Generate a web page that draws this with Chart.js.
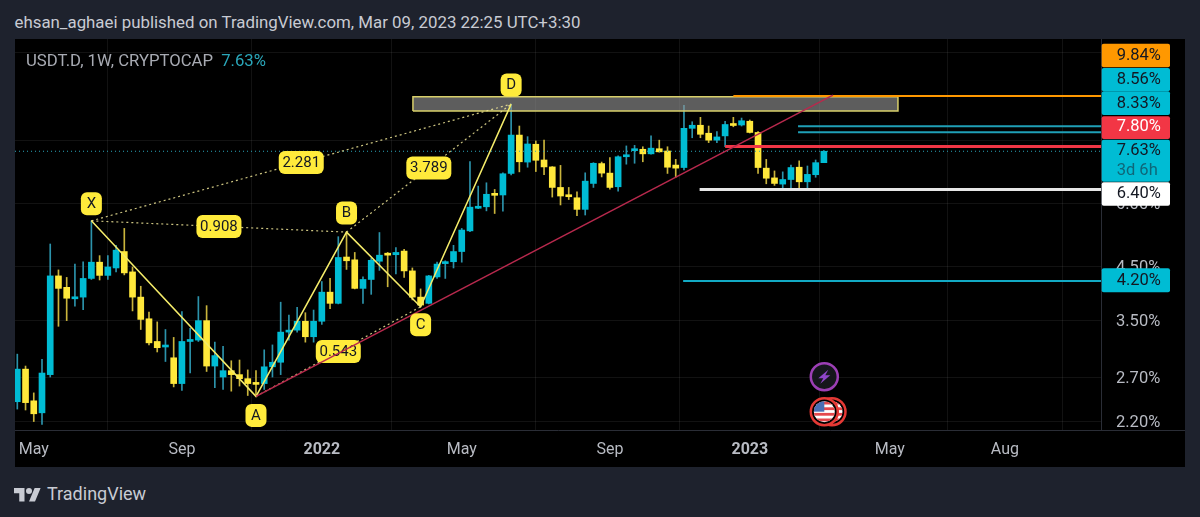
<!DOCTYPE html>
<html><head><meta charset="utf-8">
<script src="https://cdn.jsdelivr.net/npm/chart.js@4"></script>
<style>
html,body{margin:0;padding:0;width:1200px;height:517px;overflow:hidden;background:#1e222d;font-family:Roboto,sans-serif}
#hdr{position:absolute;left:14.5px;top:11px;font-size:16.85px;line-height:22px;color:#c8cbd3;white-space:nowrap}
#panel{position:absolute;left:15px;top:39px;width:1170px;height:428px;background:#000}
#legend{position:absolute;left:26px;top:50.5px;font-size:16.7px;line-height:19px;color:#a8abb3;white-space:nowrap}
#legend span{color:#2aa7ba;margin-left:4px}
#foot{position:absolute;left:47px;top:483px;font-size:18px;line-height:22px;color:#c8cbd3}
#logo{position:absolute;left:14px;top:485px;width:27px;height:21px}
canvas{display:block}
</style></head><body>
<div id="hdr">ehsan_aghaei published on TradingView.com, Mar 09, 2023 22:25 UTC+3:30</div>
<div id="panel"><canvas id="c" width="1170" height="428"></canvas></div>
<div id="legend">USDT.D, 1W, CRYPTOCAP <span>7.63%</span></div>
<svg id="logo" viewBox="0 0 36 28"><path fill="#c8cbd3" d="M14 22H7V11H0V4h14v18zM28 22h-8l7.5-18h8L28 22z"/><circle fill="#c8cbd3" cx="20" cy="8" r="4"/></svg>
<div id="foot">TradingView</div>
<script>
const opens  = [2.41,2.80,2.42,2.29,2.73,4.30,4.08,3.87,3.90,4.25,4.58,4.31,4.46,4.81,4.38,3.90,3.53,3.18,3.10,2.95,2.62,3.18,3.20,3.50,2.84,2.70,2.78,2.73,2.68,2.62,2.62,2.83,2.89,3.32,3.35,3.49,3.25,3.49,3.99,3.79,4.69,4.63,4.06,4.23,4.60,4.76,4.74,4.82,4.40,3.90,3.79,4.28,4.55,4.59,4.81,5.29,5.87,5.91,6.26,6.24,6.89,8.22,7.26,7.88,7.33,7.10,6.46,6.24,6.16,5.84,6.58,7.21,6.90,6.48,7.44,7.65,7.70,7.54,7.72,7.64,7.16,7.08,8.48,8.60,8.29,8.03,8.19,8.64,8.61,8.76,8.32,7.06,6.75,6.56,6.70,7.09,6.63,6.85,7.24];
const highs  = [3.00,2.84,2.51,2.93,4.98,4.42,4.27,4.54,4.59,5.54,4.72,4.72,4.95,5.35,4.48,4.10,3.64,3.48,3.36,3.24,3.65,3.38,3.91,3.75,3.17,3.11,2.91,2.92,2.79,2.78,3.06,3.13,3.81,3.59,3.72,3.63,3.675,4.19,4.25,5.15,5.26,4.79,4.28,4.66,5.25,4.79,4.90,4.86,4.46,4.05,4.31,4.58,4.61,4.95,5.35,7.28,6.50,6.60,6.40,6.91,9.48,8.57,8.16,8.00,8.03,7.11,7.15,6.46,6.33,6.91,7.24,7.26,7.41,7.47,7.82,7.84,7.79,8.19,8.03,7.79,7.35,9.43,8.74,8.92,8.57,8.35,8.76,8.92,8.89,8.81,8.35,7.35,6.97,6.94,7.16,7.30,7.13,7.33,7.65];
const lows   = [2.33,2.32,2.20,2.17,2.70,3.41,3.50,3.74,3.68,4.23,4.22,4.23,4.38,4.32,3.66,3.36,3.13,3.03,2.90,2.58,2.54,2.75,3.18,2.77,2.57,2.55,2.53,2.59,2.48,2.47,2.55,2.70,2.73,3.20,3.32,3.17,3.17,3.44,3.70,3.78,4.43,4.05,3.79,3.95,4.41,4.09,4.34,4.27,3.85,3.73,3.78,4.25,4.25,4.46,4.58,5.27,5.86,5.80,5.73,5.79,6.84,6.94,7.09,6.95,6.85,6.18,5.96,6.11,5.67,5.69,6.46,6.78,6.41,6.35,7.19,7.22,7.27,7.53,7.60,6.89,6.77,7.00,8.12,8.12,7.94,7.94,7.79,8.54,8.57,8.30,6.89,6.57,6.52,6.44,6.44,6.44,6.44,6.77,7.24];
const closes = [2.80,2.40,2.28,2.75,4.30,4.06,3.88,3.90,4.25,4.58,4.31,4.48,4.84,4.36,3.90,3.52,3.16,3.09,3.12,2.62,3.18,3.20,3.50,2.84,2.98,2.78,2.73,2.68,2.62,2.61,2.83,2.89,3.32,3.35,3.49,3.25,3.49,3.99,3.79,4.68,4.61,4.06,4.23,4.62,4.73,4.73,4.79,4.40,3.90,3.76,4.30,4.54,4.59,4.81,5.31,5.90,5.91,6.26,6.23,6.88,8.22,7.27,7.89,7.32,7.10,6.46,6.21,6.19,5.84,6.65,7.22,6.90,6.46,7.44,7.50,7.70,7.54,7.74,7.61,7.09,7.06,8.48,8.60,8.25,8.03,8.15,8.63,8.59,8.78,8.32,7.08,6.74,6.58,6.70,7.08,6.63,6.86,7.24,7.63];

const xTickIndex  = [2,20,37,54,72,89,106,120];
const xTickLabels = ['May','Sep','2022','May','Sep','2023','May','Aug'];
const yTickValues = [2.2,2.7,3.5,4.5,6.0,8.0,12.0];
const yTickLabels = ['2.20%','2.70%','3.50%','4.50%','6.00%','',''];

const patternIdx   = [9,29,40,49,60];
const patternVals  = [highs[9],lows[29],highs[40],lows[49],highs[60]];
const patternNames = ['X','A','B','C','D'];
const ratioLabels  = ['0.908','2.281','3.789','0.543'];

const trendIdx  = [29,99.1];
const trendVals = [lows[29],9.88];
const zoneIdx   = [48.07,107];
const zoneVals  = [9.18,9.80];

const levelVals   = [9.84,8.56,8.33,7.80,6.40,4.20];
const levelStarts = [87,94.86,94.86,86,82.9,80.9];
const levelColors = ['#ff9800','#1f9fb6','#1f9fb6','#f23645','#e6e6e6','#12aac4'];
const levelWidths = [2,2,2,3,3,2];
const lastPrice   = 7.63;

const priceLabels = ['9.84%','8.56%','8.33%','7.80%','7.63%','6.40%','4.20%'];
const priceColors = ['#ff9800','#00bcd4','#00bcd4','#f23645','#00bcd4','#ffffff','#00bcd4'];
const countdown   = '3d 6h';

const xMin=-0.28, xMax=131.67, yMin=2.116, yMax=12.79;
const TEAL='#00bcd4', YEL='#ffe83b', TEALW='#2c93ab', YELW='#c9b43c';

const idx = opens.map((_,i)=>i);
const up = i => closes[i]>=opens[i];

const seg = (xs,ys)=>xs.map((x,i)=>({x,y:ys[i]}));
const lineDs=(data,color,width,order,extra)=>Object.assign({type:'line',data,borderColor:color,borderWidth:width,pointRadius:0,tension:0,fill:false,order},extra||{});
const dot={borderDash:[2,3]}, DOTC='rgba(240,230,150,.85)';
const pp=i=>({x:patternIdx[i],y:patternVals[i]});

const datasets=[
 {type:'bar',data:idx.map(i=>({x:i,y:[lows[i],highs[i]]})),backgroundColor:c=>up(c.dataIndex)?TEALW:YELW,barThickness:1,grouped:false,borderWidth:0,order:20},
 {type:'bar',data:idx.map(i=>({x:i,y:[opens[i],closes[i]]})),backgroundColor:c=>up(c.dataIndex)?TEAL:YEL,barThickness:6,grouped:false,borderWidth:0,minBarLength:2,order:19},
 lineDs([{x:xMin,y:lastPrice},{x:xMax,y:lastPrice}],'#2aa7ba',1,18,{borderDash:[1,3]}),
 lineDs([{x:zoneIdx[0],y:zoneVals[0]},{x:zoneIdx[0],y:zoneVals[1]},{x:zoneIdx[1],y:zoneVals[1]},{x:zoneIdx[1],y:zoneVals[0]},{x:zoneIdx[0],y:zoneVals[0]}],'#d8cf6a',1.5,10,{fill:'shape',backgroundColor:'rgba(150,150,150,.62)'}),
 lineDs([pp(0),pp(2)],DOTC,1.2,9,dot),
 lineDs([pp(0),pp(4)],DOTC,1.2,9,dot),
 lineDs([pp(2),pp(4)],DOTC,1.2,9,dot),
 lineDs([pp(1),pp(3)],DOTC,1.2,9,dot),
 lineDs(patternIdx.map((x,i)=>({x,y:patternVals[i]})),'#f5ec6a',1.5,6),
 lineDs(seg(trendIdx,trendVals),'#b8294d',1.5,5)
];
levelVals.forEach((v,i)=>datasets.push(lineDs([{x:levelStarts[i],y:v},{x:xMax,y:v}],levelColors[i],levelWidths[i],8)));

function pill(ctx,cx,cy,w,h,text){
  ctx.fillStyle='#ffeb3b';
  ctx.beginPath();ctx.roundRect(cx-w/2,cy-h/2,w,h,6);ctx.fill();
  ctx.fillStyle='#131722';ctx.font='15px Roboto';ctx.textAlign='center';ctx.textBaseline='middle';
  ctx.fillText(text,cx,cy+0.5);
}
const ratioPairs=[[0,2],[0,4],[2,4],[1,3]];
const letterOffsets=[-17,19,-19,18,-19];

const drawPlugin={
 id:'draw',
 beforeDatasetDraw(chart,args){
   if(args.index!==9) return;
   const {x,y}=chart.scales,ctx=chart.ctx;
   ratioPairs.forEach((p,i)=>{
     const cx=(x.getPixelForValue(patternIdx[p[0]])+x.getPixelForValue(patternIdx[p[1]]))/2;
     const cy=(y.getPixelForValue(patternVals[p[0]])+y.getPixelForValue(patternVals[p[1]]))/2;
     pill(ctx,cx,cy,45,23,ratioLabels[i]);
   });
 },
 afterDatasetsDraw(chart){
   const {x,y}=chart.scales,ctx=chart.ctx;
   patternNames.forEach((n,i)=>pill(ctx,x.getPixelForValue(patternIdx[i]),y.getPixelForValue(patternVals[i])+letterOffsets[i],21,23,n));
   // event icons
   const ex=x.getPixelForValue(98.05);
   ctx.save();
   ctx.lineWidth=2.5;ctx.strokeStyle='#9c3fb5';ctx.fillStyle='#15161c';
   ctx.beginPath();ctx.arc(ex,337.7,13.5,0,7);ctx.fill();ctx.stroke();
   ctx.fillStyle='#8e46c8';ctx.beginPath();
   [[4,-7],[-6,1.5],[-1,1.5],[-4,7],[6,-1.5],[1,-1.5]].forEach((p,i)=>i?ctx.lineTo(ex+p[0],337.7+p[1]):ctx.moveTo(ex+p[0],337.7+p[1]));
   ctx.closePath();ctx.fill();
   const flag=(cx,cy)=>{
     ctx.fillStyle='#000';ctx.strokeStyle='#e53935';ctx.lineWidth=2.5;
     ctx.beginPath();ctx.arc(cx,cy,13.5,0,7);ctx.fill();ctx.stroke();
     ctx.save();ctx.beginPath();ctx.arc(cx,cy,10.5,0,7);ctx.clip();
     ctx.fillStyle='#fff';ctx.fillRect(cx-11,cy-11,22,22);
     ctx.fillStyle='#e5484d';
     for(let k=0;k<4;k++)ctx.fillRect(cx-11,cy-10+k*5.6,22,2.8);
     ctx.fillStyle='#4a6fb5';ctx.fillRect(cx-11,cy-11,11,11);
     ctx.restore();
   };
   flag(ex+7.7,372.7);flag(ex,372.7);
   ctx.restore();
 },
 afterDraw(chart){
   const ctx=chart.ctx,a=chart.chartArea;
   ctx.save();
   ctx.strokeStyle='#2a2d36';ctx.lineWidth=1;
   ctx.beginPath();ctx.moveTo(a.right,a.bottom+.5);ctx.lineTo(1170,a.bottom+.5);ctx.stroke();
   const tops=[4.7,29,52.3,77.3,100.7,143.3,229.3];
   const hs=[23.6,23.3,23.7,22.7,42,23.4,24];
   const textY=[16.7,40.7,64.7,88.3,111.7,155.3,241.7];
   const px=1086.7, pw=68.3;
   ctx.font='16.5px Roboto';ctx.textBaseline='middle';ctx.textAlign='left';
   priceLabels.forEach((t,i)=>{
     ctx.fillStyle=priceColors[i];
     ctx.beginPath();ctx.roundRect(px,tops[i],pw,hs[i],2);ctx.fill();
   });
   priceLabels.forEach((t,i)=>{
     ctx.fillStyle=i===3?'#ffffff':'#131722';
     ctx.fillText(t,1101.7,textY[i]);
   });
   ctx.fillStyle='#0f6678';ctx.fillText(countdown,1101.7,131.7);
   ctx.restore();
 }
};

const noPad=s=>{s.paddingLeft=0;s.paddingRight=0;s.paddingTop=0;s.paddingBottom=0;};

new Chart(document.getElementById('c'),{
 type:'bar',
 data:{datasets},
 plugins:[drawPlugin],
 options:{
  responsive:false,animation:false,
  devicePixelRatio:1,
  layout:{padding:0},
  plugins:{legend:{display:false},tooltip:{enabled:false}},
  scales:{
   x:{type:'linear',position:'bottom',min:xMin,max:xMax,bounds:'data',offset:false,
      afterBuildTicks:s=>{s.ticks=xTickIndex.map(value=>({value}));},
      afterFit:s=>{s.height=37;noPad(s);},
      grid:{color:'rgba(255,255,255,.07)',drawTicks:false,tickLength:0},
      border:{color:'#2a2d36'},
      ticks:{autoSkip:false,maxRotation:0,padding:10,color:'#b8bbc3',
        font:c=>({family:'Roboto',size:16,weight:(c.tick&&(c.tick.label==='2022'||c.tick.label==='2023'))?'bold':'normal'}),
        callback:(v,i)=>xTickLabels[i]}},
   y:{type:'logarithmic',position:'right',min:yMin,max:yMax,bounds:'data',
      afterBuildTicks:s=>{s.ticks=yTickValues.map(value=>({value}));},
      afterFit:s=>{s.width=84;noPad(s);},
      grid:{color:'rgba(255,255,255,.07)',drawTicks:false,tickLength:0},
      border:{color:'#2a2d36'},
      ticks:{autoSkip:false,padding:15,labelOffset:1.5,color:'#b8bbc3',font:{family:'Roboto',size:16.5},crossAlign:'near',
        callback:(v,i)=>yTickLabels[i]}}
  }
 }
});
</script>
</body></html>
